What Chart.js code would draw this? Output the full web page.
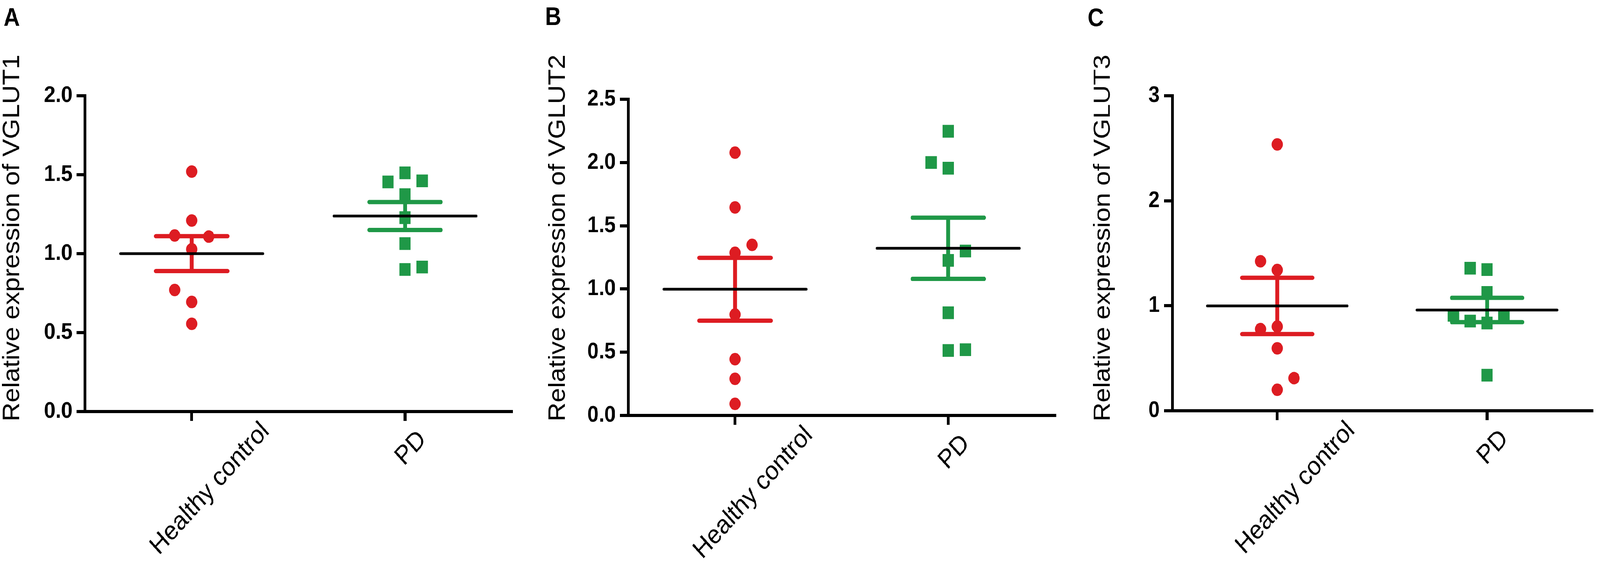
<!DOCTYPE html>
<html>
<head>
<meta charset="utf-8">
<script src="https://cdn.jsdelivr.net/npm/chart.js@4.4.1/dist/chart.umd.min.js"></script>
<style>
  html, body { margin: 0; padding: 0; background: #fff; overflow: hidden; }
  #wrap { width: 4550px; height: 1461px; position: relative; transform-origin: 0 0; }
  canvas { position: absolute; top: 0; }
</style>
</head>
<body>
<div id="wrap">
<canvas id="chartA" width="1520" height="1461" style="left:0px"></canvas>
<canvas id="chartB" width="1520" height="1461" style="left:1520px"></canvas>
<canvas id="chartC" width="1510" height="1461" style="left:3040px"></canvas>
</div>
<script>
const groups = ['Healthy control', 'PD']

// VGLUT1 (panel A)
const vglut1Control = [1.52, 1.21, 1.115, 1.108, 1.028, 0.77, 0.694, 0.556]
const vglut1ControlSpread = [0, 0, -0.08, 0.08, 0, -0.08, 0, 0]
const vglut1PD = [1.512, 1.454, 1.461, 1.374, 1.228, 1.064, 0.90, 0.915]
const vglut1PDSpread = [0, -0.08, 0.08, 0, 0, 0, 0, 0.08]
const vglut1Ticks = ['0.0', '0.5', '1.0', '1.5', '2.0']

// VGLUT2 (panel B)
const vglut2Control = [2.078, 1.645, 1.349, 1.286, 0.798, 0.445, 0.29, 0.092]
const vglut2ControlSpread = [0, 0, 0.08, 0, 0, 0, 0, 0]
const vglut2PD = [2.247, 2.0, 1.955, 1.30, 1.226, 0.812, 0.514, 0.52]
const vglut2PDSpread = [0, -0.08, 0, 0.08, 0, 0, 0, 0.08]
const vglut2Ticks = ['0.0', '0.5', '1.0', '1.5', '2.0', '2.5']

// VGLUT3 (panel C)
const vglut3Control = [2.537, 1.424, 1.341, 0.778, 0.802, 0.595, 0.311, 0.20]
const vglut3ControlSpread = [0, -0.08, 0, -0.08, 0, 0, 0.08, 0]
const vglut3PD = [1.358, 1.345, 1.127, 0.909, 0.909, 0.854, 0.836, 0.339]
const vglut3PDSpread = [-0.08, 0, 0, -0.16, 0.08, -0.08, 0, 0]
const vglut3Ticks = ['0', '1', '2', '3']

const RED = '#DD1C22'
const GREEN = '#1F9847'
const FONT = '"Liberation Sans", Arial, sans-serif'

// the figure is laid out on a 4550x1461 sheet; map it onto the real viewport
const sx = (window.innerWidth || 4550) / 4550
const sy = (window.innerHeight || 1461) / 1461
document.getElementById('wrap').style.transform = `scale(${sx}, ${sy})`

const mean = a => a.reduce((s, v) => s + v, 0) / a.length
const sem = a => {
    const m = mean(a)
    return Math.sqrt(a.reduce((s, v) => s + (v - m) ** 2, 0) / (a.length - 1) / a.length)
}

function buildDatasets(series) {
    const ds = []
    series.forEach((g, i) => {
        const c = i + 1
        const m = mean(g.values), s = sem(g.values)
        // mean
        ds.push({
            type: 'line', order: 0,
            data: [{ x: c - 0.334, y: m }, { x: c + 0.334, y: m }],
            borderColor: '#000', borderWidth: 7, borderCapStyle: 'round', pointRadius: 0
        })
        // SEM
        ds.push({
            type: 'line', order: 1, spanGaps: false,
            data: [
                { x: c - 0.168, y: m + s }, { x: c + 0.168, y: m + s }, { x: c, y: null },
                { x: c - 0.168, y: m - s }, { x: c + 0.168, y: m - s }, { x: c, y: null },
                { x: c, y: m - s }, { x: c, y: m + s }
            ],
            borderColor: g.color, borderWidth: 11, borderCapStyle: 'round', pointRadius: 0
        })
        // samples
        ds.push({
            type: 'scatter', order: 2,
            data: g.values.map((v, k) => ({ x: c + g.spread[k], y: v })),
            pointStyle: g.shape,
            pointRadius: g.shape === 'rect' ? 23 : 16,
            backgroundColor: g.color, borderWidth: 0
        })
    })
    return ds
}

const panelText = {
    id: 'panelText',
    afterDraw(chart, args, o) {
        const { ctx, chartArea: a, scales } = chart
        ctx.save()
        ctx.fillStyle = '#000'
        ctx.font = `bold 64px ${FONT}`
        ctx.textAlign = 'left'
        ctx.textBaseline = 'alphabetic'
        ctx.fillText(o.letter, o.letterX, o.letterY)

        ctx.font = `67px ${FONT}`
        ctx.translate(o.titleX, o.titleY)
        ctx.rotate(-Math.PI / 2)
        ctx.textAlign = 'center'
        ctx.textBaseline = 'middle'
        ctx.fillText(o.title, 0, 0)
        ctx.restore()

        // group names, turned 45 degrees under each tick
        ctx.save()
        ctx.fillStyle = '#000'
        ctx.font = `67px ${FONT}`
        groups.forEach((g, i) => {
            const w = ctx.measureText(g).width
            const x = scales.x.getPixelForValue(i + 1)
            ctx.save()
            ctx.translate(x + 21 + 0.452 * w, a.bottom + 80 - 0.06 * w)
            ctx.rotate(-Math.PI / 4)
            ctx.textAlign = 'right'
            ctx.textBaseline = 'alphabetic'
            ctx.fillText(g, 0, 0)
            ctx.restore()
        })
        ctx.restore()
    }
}

const axisLine = { drawOnChartArea: false, drawTicks: true, tickLength: 24, lineWidth: 8, color: '#000' }
const axisBorder = { display: true, width: 8, color: '#000' }

function makeChart(id, cfg) {
    new Chart(document.getElementById(id), {
        type: 'scatter',
        data: { datasets: buildDatasets(cfg.series) },
        options: {
            responsive: false,
            animation: false,
            devicePixelRatio: 1,
            clip: false,
            layout: { padding: { left: 0, top: cfg.top, right: cfg.right, bottom: 0 } },
            plugins: {
                legend: { display: false },
                tooltip: { enabled: false },
                panelText: cfg.text
            },
            scales: {
                x: {
                    type: 'linear', min: 0.5, max: 2.5,
                    afterBuildTicks: s => { s.ticks = groups.map((g, i) => ({ value: i + 1 })) },
                    afterFit: s => { s.height = cfg.xAxisHeight },
                    ticks: { display: false },
                    grid: axisLine,
                    border: axisBorder
                },
                y: {
                    type: 'linear', min: 0, max: parseFloat(cfg.ticks[cfg.ticks.length - 1]),
                    afterBuildTicks: s => { s.ticks = cfg.ticks.map(t => ({ value: parseFloat(t) })) },
                    afterFit: s => { s.width = cfg.yAxisWidth },
                    ticks: {
                        callback: (v, i) => cfg.ticks[i],
                        font: { family: FONT, weight: 'bold', size: 58 },
                        color: '#000',
                        padding: 12
                    },
                    grid: axisLine,
                    border: axisBorder
                }
            }
        },
        plugins: [panelText]
    })
}

makeChart('chartA', {
    series: [
        { values: vglut1Control, spread: vglut1ControlSpread, color: RED, shape: 'circle' },
        { values: vglut1PD, spread: vglut1PDSpread, color: GREEN, shape: 'rect' }
    ],
    ticks: vglut1Ticks,
    top: 245, right: 65, yAxisWidth: 242, xAxisHeight: 408,
    text: { letter: 'A', letterX: 10, letterY: 66, title: 'Relative expression of VGLUT1', titleX: 36, titleY: 609 }
})

makeChart('chartB', {
    series: [
        { values: vglut2Control, spread: vglut2ControlSpread, color: RED, shape: 'circle' },
        { values: vglut2PD, spread: vglut2PDSpread, color: GREEN, shape: 'rect' }
    ],
    ticks: vglut2Ticks,
    top: 254, right: 40, yAxisWidth: 267, xAxisHeight: 398,
    text: { letter: 'B', letterX: 30, letterY: 64, title: 'Relative expression of VGLUT2', titleX: 68, titleY: 609 }
})

makeChart('chartC', {
    series: [
        { values: vglut3Control, spread: vglut3ControlSpread, color: RED, shape: 'circle' },
        { values: vglut3PD, spread: vglut3PDSpread, color: GREEN, shape: 'rect' }
    ],
    ticks: vglut3Ticks,
    top: 245, right: 6, yAxisWidth: 294, xAxisHeight: 410,
    text: { letter: 'C', letterX: 53, letterY: 67, title: 'Relative expression of VGLUT3', titleX: 98, titleY: 609 }
})
</script>
</body>
</html>
